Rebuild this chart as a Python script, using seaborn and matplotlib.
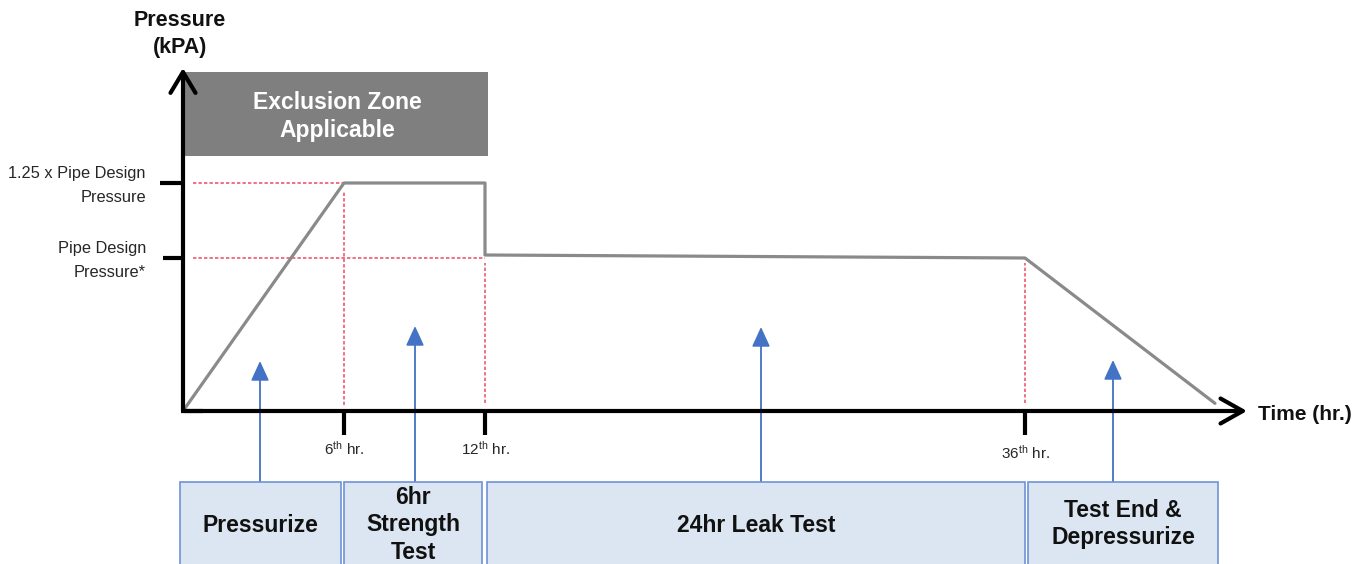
import numpy as np
import pandas as pd
import matplotlib
matplotlib.use("Agg")
import matplotlib.pyplot as plt
import matplotlib.transforms as mtrans
from matplotlib.patches import Rectangle
import seaborn as sns

# ---------------- data ----------------
time_hr = [0, 6, 12, 12, 36, 44]                 # hours
pressure = [0.0, 1.25, 1.25, 1.01, 1.0, 0.05]     # x Pipe Design Pressure
phase_times = [6, 12, 36]
tick_labels_x = [r"6$^{\mathrm{th}}$ hr.", r"12$^{\mathrm{th}}$ hr.", r"36$^{\mathrm{th}}$ hr."]
levels = [1.25, 1.0]
level_labels = ["1.25 x Pipe Design\nPressure", "Pipe Design\nPressure*"]
phases = ["Pressurize", "6hr\nStrength\nTest", "24hr Leak Test", "Test End &\nDepressurize"]
phase_start = [0, 6, 12, 36]
phase_end = [6, 12, 36, 44]

# ---------------- style ----------------
sns.set_theme(style="white")
plt.rcParams["font.family"] = ["Liberation Sans", "DejaVu Sans"]
plt.rcParams["mathtext.fontset"] = "custom"
plt.rcParams["mathtext.rm"] = "Liberation Sans"
plt.rcParams["mathtext.it"] = "Liberation Sans:italic"
plt.rcParams["mathtext.bf"] = "Liberation Sans:bold"

W, H = 1370, 564
fig = plt.figure(figsize=(W / 100, H / 100), dpi=100)
fig.patch.set_facecolor("white")

# schematic (piecewise) scales: hours -> px, pressure -> px
X0, Y0 = 183, 411
hx = np.array([-100, 0, 6, 12, 36, 44, 300], dtype=float)
px = np.array([-100 * 161 / 6, 0, 161, 302, 842, 1032, 1032 + 256 * 190 / 8])
hy = np.array([-100, 0, 1.0, 1.25, 100], dtype=float)
py = np.array([-100 * 153, 0, 153, 228, 228 + 98.75 * 300])

fx = lambda v: np.interp(v, hx, px)
ix = lambda v: np.interp(v, px, hx)
fy = lambda v: np.interp(v, hy, py)
iy = lambda v: np.interp(v, py, hy)

ax = fig.add_axes([0, 0, 1, 1])
ax.set_facecolor("none")
df = pd.DataFrame({"time": time_hr, "pressure": pressure})
sns.lineplot(data=df, x="time", y="pressure", estimator=None, sort=False,
             color="#8a8a8a", linewidth=2.3, ax=ax, zorder=4)
ax.set_xscale("function", functions=(fx, ix))
ax.set_yscale("function", functions=(fy, iy))
ax.set_xlim(ix(-X0), ix(W - X0))
ax.set_ylim(iy(-(H - Y0)), iy(Y0))
ax.axis("off")

# red dashed reference lines
red = "#ea4a62"
dash = (0, (2.2, 1.4))
ax.hlines(levels[0], 0.37, phase_times[0], color=red, lw=1.1, linestyle=dash, zorder=3)
ax.hlines(levels[1], 0.37, phase_times[1], color=red, lw=1.1, linestyle=dash, zorder=3)
ax.vlines(phase_times[0], 0.04, 1.22, color=red, lw=1.1, linestyle=dash, zorder=3)
ax.vlines(phase_times[1], 0.05, 0.97, color=red, lw=1.1, linestyle=dash, zorder=3)
ax.vlines(phase_times[2], 0.05, 0.97, color=red, lw=1.1, linestyle=dash, zorder=3)

# overlay in pixel coordinates
ov = fig.add_axes([0, 0, 1, 1])
ov.set_xlim(0, W)
ov.set_ylim(H, 0)
ov.axis("off")
ov.set_facecolor("none")

T_ypx = mtrans.blended_transform_factory(ov.transData, ax.transData)   # x px, y pressure
T_xhr = mtrans.blended_transform_factory(ax.transData, ov.transData)   # x hours, y px
T_lab = T_ypx + mtrans.ScaledTranslation(0, -2.5 / 100, fig.dpi_scale_trans)

# axes arrows
ov.plot([X0 - 1.5, X0 + 20], [Y0, Y0], color="black", lw=3.0, solid_capstyle="butt")
ov.annotate("", xy=(1247, Y0), xytext=(X0, Y0),
            arrowprops=dict(arrowstyle="->,head_length=0.8,head_width=0.45",
                            lw=3.0, color="black", shrinkA=0, shrinkB=0, mutation_scale=20))
ov.annotate("", xy=(X0, 68), xytext=(X0, Y0),
            arrowprops=dict(arrowstyle="->,head_length=0.75,head_width=0.45",
                            lw=3.0, color="black", shrinkA=0, shrinkB=0, mutation_scale=20))

# y ticks and labels
for lvl, lab, x0 in zip(levels, level_labels, [160, 163]):
    ov.plot([x0, X0], [lvl, lvl], color="black", lw=3.0, transform=T_ypx,
            solid_capstyle="butt")
    ov.text(146, lvl, lab, transform=T_lab, ha="right", va="center",
            fontsize=11.8, color="#262626", linespacing=1.75)

# x ticks and labels
for t, lab, yl in zip(phase_times, tick_labels_x, [449, 449, 453]):
    ov.plot([t, t], [Y0, 435], color="black", lw=3.0, transform=T_xhr,
            solid_capstyle="butt")
    ov.text(t, yl, lab, transform=T_xhr, ha="center", va="center",
            fontsize=11, color="#262626")

# axis titles
ov.text(180, 34, "Pressure\n(kPA)", ha="center", va="center", fontsize=15.5,
        fontweight="bold", color="#111111", linespacing=1.35)
ov.text(1258, 414, "Time (hr.)", ha="left", va="center", fontsize=15,
        fontweight="bold", color="#111111")

# exclusion zone
ov.add_patch(Rectangle((185, 72), 303, 84, facecolor="#7f7f7f", edgecolor="none", zorder=2))
ov.text(337, 116.5, "Exclusion Zone\nApplicable", ha="center", va="center",
        fontsize=16.5, fontweight="bold", color="white", linespacing=1.32, zorder=3)

# phase boxes
box_x = [(180, 341), (344, 482), (487, 1025), (1028, 1218)]
arrow_x = [260, 415, 761, 1113]
arrow_tip = [361, 326, 327, 360]
text_y = [525, 525, 525, 524]
for name, (xa, xb), axx, tip, ty in zip(phases, box_x, arrow_x, arrow_tip, text_y):
    ov.add_patch(Rectangle((xa, 482), xb - xa, 100, facecolor="#dce6f3",
                           edgecolor="#6f93d6", lw=1.2, zorder=2))
    ov.text((xa + xb) / 2, ty, name, ha="center", va="center", fontsize=16.5,
            fontweight="bold", color="#111111", linespacing=1.25, zorder=3)
    ov.annotate("", xy=(axx, tip), xytext=(axx, 482),
                arrowprops=dict(arrowstyle="-|>,head_length=1.2,head_width=0.55",
                                lw=1.3, color="#4472c4", shrinkA=0, shrinkB=0,
                                mutation_scale=10), zorder=1)

fig.savefig("out.png", dpi=100)
